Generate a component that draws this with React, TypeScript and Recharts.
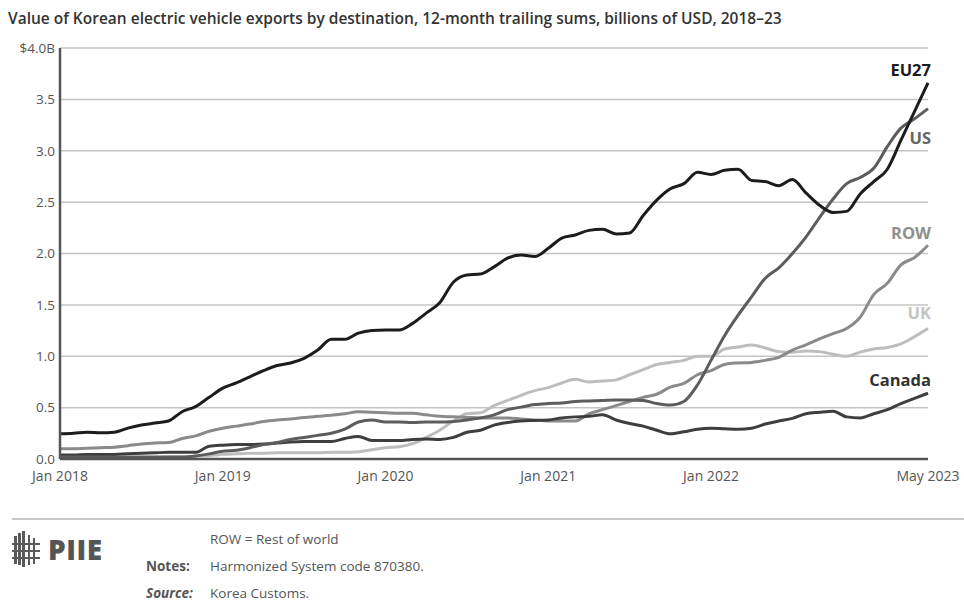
import React from 'react';
import { LineChart, Line, XAxis, YAxis, CartesianGrid } from 'recharts';

// month categories, Jan 2018 .. May 2023
const months: string[] = [];
for (let y = 2018; y <= 2023; y++) {
  for (let m = 1; m <= 12; m++) {
    if (y === 2023 && m > 5) break;
    months.push(`${y}-${String(m).padStart(2, '0')}`);
  }
}

const xTicks = ['2018-01', '2019-01', '2020-01', '2021-01', '2022-01', '2023-05'];
const xTickLabels = ['Jan 2018', 'Jan 2019', 'Jan 2020', 'Jan 2021', 'Jan 2022', 'May 2023'];
const yTicks = [0, 0.5, 1, 1.5, 2, 2.5, 3, 3.5, 4];

// billions of USD, 12-month trailing sums
const eu27 = [
  0.245, 0.25, 0.26, 0.255, 0.26, 0.3, 0.33, 0.35, 0.37, 0.46,
  0.51, 0.6, 0.69, 0.74, 0.8, 0.86, 0.91, 0.935, 0.98, 1.06,
  1.165, 1.165, 1.225, 1.25, 1.255, 1.255, 1.32, 1.42, 1.52, 1.72,
  1.79, 1.8, 1.87, 1.955, 1.985, 1.97, 2.05, 2.15, 2.18, 2.225,
  2.235, 2.19, 2.2, 2.37, 2.52, 2.63, 2.68, 2.79, 2.77, 2.81,
  2.82, 2.71, 2.7, 2.66, 2.72, 2.59, 2.47, 2.4, 2.41, 2.58,
  2.7, 2.82, 3.1, 3.38, 3.66,
];
const us = [
  0.02, 0.02, 0.02, 0.02, 0.02, 0.02, 0.02, 0.02, 0.02, 0.02,
  0.03, 0.05, 0.075, 0.085, 0.11, 0.14, 0.16, 0.19, 0.21, 0.23,
  0.25, 0.29, 0.36, 0.38, 0.36, 0.36, 0.355, 0.36, 0.36, 0.365,
  0.38, 0.4, 0.43, 0.48, 0.505, 0.53, 0.54, 0.545, 0.56, 0.565,
  0.57, 0.575, 0.575, 0.57, 0.54, 0.525, 0.56, 0.72, 0.96, 1.2,
  1.4, 1.58, 1.76, 1.86, 2.0, 2.16, 2.35, 2.53, 2.68, 2.74,
  2.83, 3.04, 3.22, 3.31, 3.41,
];
const row = [
  0.1, 0.1, 0.105, 0.11, 0.115, 0.13, 0.145, 0.155, 0.16, 0.2,
  0.225, 0.27, 0.3, 0.32, 0.34, 0.365, 0.38, 0.39, 0.405, 0.415,
  0.425, 0.44, 0.46, 0.455, 0.45, 0.445, 0.445, 0.43, 0.415, 0.41,
  0.405, 0.4, 0.4, 0.4, 0.39, 0.38, 0.37, 0.37, 0.37, 0.44,
  0.48, 0.52, 0.56, 0.6, 0.63, 0.7, 0.735, 0.82, 0.86, 0.92,
  0.935, 0.94, 0.96, 0.99, 1.06, 1.11, 1.17, 1.22, 1.27, 1.38,
  1.6, 1.71, 1.89, 1.96, 2.08,
];
const uk = [
  0.01, 0.01, 0.01, 0.01, 0.01, 0.01, 0.015, 0.015, 0.02, 0.02,
  0.03, 0.035, 0.045, 0.05, 0.055, 0.055, 0.06, 0.06, 0.06, 0.06,
  0.065, 0.065, 0.07, 0.09, 0.11, 0.12, 0.15, 0.21, 0.28, 0.37,
  0.44, 0.45, 0.52, 0.57, 0.62, 0.665, 0.695, 0.74, 0.775, 0.75,
  0.76, 0.77, 0.82, 0.87, 0.92, 0.94, 0.96, 1.0, 1.0, 1.07,
  1.09, 1.11, 1.08, 1.045, 1.04, 1.05, 1.045, 1.02, 1.0, 1.04,
  1.07, 1.085, 1.12, 1.19, 1.27,
];
const canada = [
  0.04, 0.04, 0.045, 0.045, 0.045, 0.05, 0.055, 0.06, 0.065, 0.065,
  0.065, 0.125, 0.135, 0.14, 0.14, 0.145, 0.155, 0.165, 0.17, 0.17,
  0.17, 0.2, 0.22, 0.18, 0.18, 0.18, 0.19, 0.195, 0.19, 0.21,
  0.26, 0.28, 0.33, 0.355, 0.37, 0.375, 0.38, 0.4, 0.41, 0.415,
  0.43, 0.38, 0.345, 0.32, 0.28, 0.245, 0.265, 0.29, 0.3, 0.295,
  0.29, 0.3, 0.34, 0.37, 0.395, 0.44, 0.455, 0.465, 0.41, 0.4,
  0.44, 0.48, 0.54, 0.59, 0.64,
];

const data = months.map((m, i) => ({
  month: m,
  eu27: eu27[i],
  us: us[i],
  row: row[i],
  uk: uk[i],
  canada: canada[i],
}));

const FONT = '"Open Sans", "Noto Sans", sans-serif';

const series = [
  { key: 'uk', color: '#bdbdbd' },
  { key: 'row', color: '#8a8a8a' },
  { key: 'canada', color: '#3e3e3e' },
  { key: 'us', color: '#5c5c5c' },
  { key: 'eu27', color: '#1c1c1c' },
];

const seriesLabels = [
  { text: 'EU27', color: '#1c1c1c', top: 60 },
  { text: 'US', color: '#666666', top: 128 },
  { text: 'ROW', color: '#8f8f8f', top: 223 },
  { text: 'UK', color: '#c4c4c4', top: 303 },
  { text: 'Canada', color: '#333333', top: 370 },
];

function Logo() {
  return (
    <div style={{ position: 'absolute', left: 12, top: 530, display: 'flex', alignItems: 'center' }}>
      <svg width={30} height={38}>
        <rect x={2} y={6} width={3} height={28} fill="#5a5a5a" />
        <rect x={6} y={3} width={3} height={32} fill="#5a5a5a" />
        <rect x={10} y={1} width={3} height={36} fill="#5a5a5a" />
        <rect x={16} y={5} width={2} height={30} fill="#5a5a5a" />
        <rect x={21} y={8} width={2} height={26} fill="#5a5a5a" />
        <rect x={0} y={13} width={28} height={2} fill="#5a5a5a" />
        <rect x={0} y={20} width={28} height={2} fill="#5a5a5a" />
        <rect x={0} y={27} width={28} height={2} fill="#5a5a5a" />
      </svg>
      <span style={{ fontFamily: FONT, fontWeight: 800, fontSize: 28, color: '#555', marginLeft: 6, letterSpacing: 0.5 }}>
        PIIE
      </span>
    </div>
  );
}

export default function App() {
  return (
    <div style={{ position: 'fixed', left: 0, top: 0, width: 964, height: 608, background: '#fff', overflow: 'hidden' }}>
      <div style={{ position: 'absolute', left: 8, top: 7, fontFamily: FONT, fontSize: 15.5, fontWeight: 600, color: '#333' }}>
        Value of Korean electric vehicle exports by destination, 12-month trailing sums, billions of USD, 2018–23
      </div>

      <div style={{ position: 'absolute', left: 0, top: 0 }}>
        <LineChart
          width={964}
          height={500}
          data={data}
          margin={{ top: 48, right: 36, bottom: 11, left: 0 }}
          style={{ overflow: 'visible' }}
        >
          <CartesianGrid horizontal vertical={false} stroke="#c4c4c4" strokeWidth={1.5} />
          <XAxis
            dataKey="month"
            ticks={xTicks}
            interval={0}
            height={30}
            tickSize={0}
            tickMargin={12}
            tickFormatter={(v) => xTickLabels[xTicks.indexOf(v)] ?? ''}
            tick={{ fill: '#555', fontSize: 14, fontFamily: FONT }}
            axisLine={{ stroke: '#555', strokeWidth: 2.5 }}
          />
          <YAxis
            type="number"
            domain={[0, 4]}
            ticks={yTicks}
            width={60}
            tickSize={0}
            tickMargin={5}
            tickFormatter={(v) => (v === 4 ? '$4.0B' : Number(v).toFixed(1))}
            tick={{ fill: '#555', fontSize: 13.5, fontFamily: FONT }}
            axisLine={{ stroke: '#555', strokeWidth: 2.5 }}
          />
          {series.map((s) => (
            <Line
              key={s.key}
              type="monotone"
              dataKey={s.key}
              stroke={s.color}
              strokeWidth={3}
              dot={false}
              isAnimationActive={false}
            />
          ))}
        </LineChart>
      </div>

      {seriesLabels.map((l) => (
        <div
          key={l.text}
          style={{
            position: 'absolute',
            right: 964 - 931,
            top: l.top,
            fontFamily: FONT,
            fontWeight: 700,
            fontSize: 16.5,
            color: l.color,
            lineHeight: '20px',
          }}
        >
          {l.text}
        </div>
      ))}

      <div style={{ position: 'absolute', left: 12, top: 518, width: 952, height: 2, background: '#c8c8c8' }} />
      <Logo />
      <div style={{ position: 'absolute', left: 146, top: 526, fontFamily: FONT, fontSize: 13.5, color: '#555', lineHeight: '27px' }}>
        <div style={{ display: 'flex' }}>
          <span style={{ width: 64 }}></span>
          <span>ROW = Rest of world</span>
        </div>
        <div style={{ display: 'flex' }}>
          <span style={{ width: 64, fontWeight: 700 }}>Notes:</span>
          <span>Harmonized System code 870380.</span>
        </div>
        <div style={{ display: 'flex' }}>
          <span style={{ width: 64, fontWeight: 700, fontStyle: 'italic' }}>Source:</span>
          <span>Korea Customs.</span>
        </div>
      </div>
    </div>
  );
}
